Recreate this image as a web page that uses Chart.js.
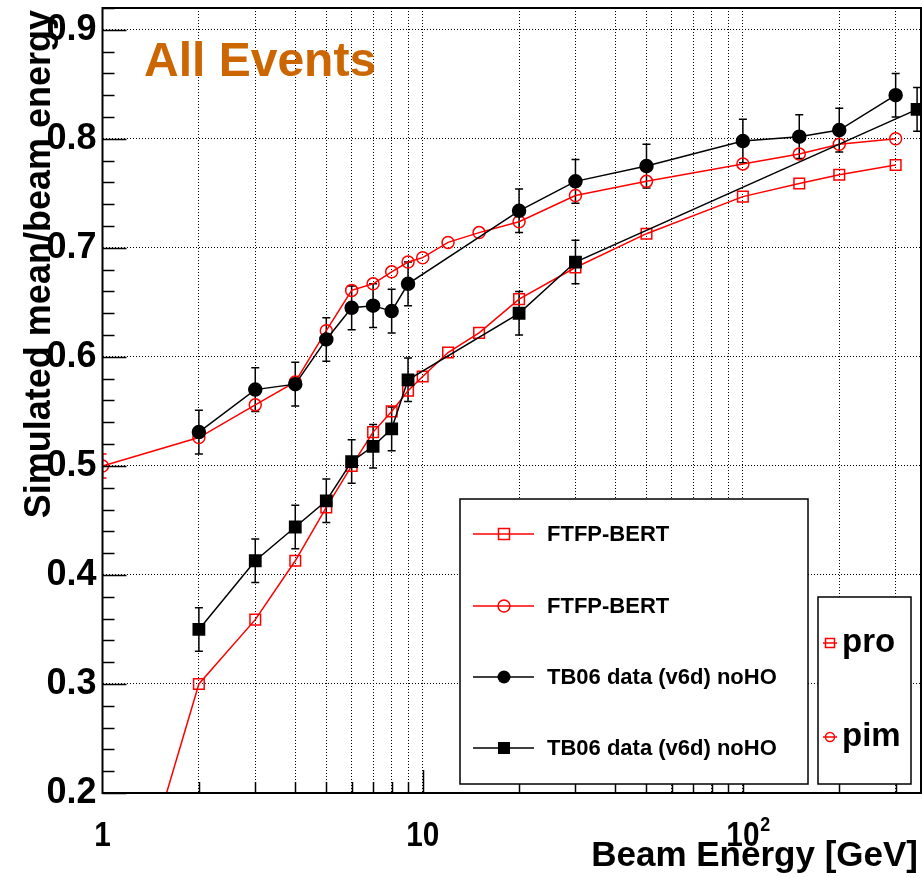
<!DOCTYPE html>
<html>
<head>
<meta charset="utf-8">
<script src="https://cdn.jsdelivr.net/npm/chart.js@4.4.1/dist/chart.umd.min.js"></script>
<style>
  html, body { margin: 0; padding: 0; background: #fff; }
</style>
</head>
<body>
<canvas id="grafica" width="922" height="878"></canvas>
<script>
/********** Datos **********/
const energiasSim = [1, 2, 3, 4, 5, 6, 7, 8, 9, 10, 12, 15, 20, 30, 50, 100, 150, 200, 300];
const proSim = [0.002, 0.300, 0.359, 0.413, 0.462, 0.500, 0.531, 0.550, 0.569, 0.582, 0.604, 0.622, 0.653, 0.682, 0.713, 0.747, 0.759, 0.767, 0.776];
const pimSim = [0.500, 0.526, 0.556, 0.577, 0.624, 0.661, 0.667, 0.678, 0.687, 0.691, 0.705, 0.714, 0.724, 0.748, 0.761, 0.777, 0.786, 0.795, 0.800];
const pimSimErr = [0.011, 0, 0, 0, 0, 0, 0, 0, 0, 0, 0, 0, 0, 0, 0, 0, 0, 0, 0];

const energiasPimData = [2, 3, 4, 5, 6, 7, 8, 9, 20, 30, 50, 100, 150, 200, 300];
const pimData = [0.531, 0.570, 0.575, 0.616, 0.645, 0.647, 0.642, 0.667, 0.734, 0.761, 0.775, 0.798, 0.802, 0.808, 0.840];
const pimDataErr = [0.02, 0.02, 0.02, 0.02, 0.02, 0.02, 0.02, 0.02, 0.02, 0.02, 0.02, 0.02, 0.02, 0.02, 0.02];

const energiasProData = [2, 3, 4, 5, 6, 7, 8, 9, 20, 30, 350];
const proData = [0.350, 0.413, 0.444, 0.468, 0.504, 0.518, 0.534, 0.579, 0.640, 0.687, 0.827];
const proDataErr = [0.02, 0.02, 0.02, 0.02, 0.02, 0.02, 0.02, 0.02, 0.02, 0.02, 0.02];

const yTicks = [0.2, 0.3, 0.4, 0.5, 0.6, 0.7, 0.8, 0.9];
const xGrid = [1, 2, 3, 4, 5, 6, 7, 8, 9, 10, 20, 30, 40, 50, 60, 70, 80, 90, 100, 200, 300];
const xLabelValues = [1, 10, 100];
const xLabelTexts = ['1', '10', '10'];
const xLabelExp = ['', '', '2'];

const leyenda = ['FTFP-BERT', 'FTFP-BERT', 'TB06 data (v6d) noHO', 'TB06 data (v6d) noHO'];
const leyenda2 = ['pro', 'pim'];

const ROJO = '#ff0000';
const NEGRO = '#000000';
const FUENTE = 'Liberation Sans, Arial, sans-serif';

const puntos = (xs, ys) => xs.map((e, i) => ({x: e, y: ys[i]}));

/********** marcadores ************/
function marcador(ctx, tipo, x, y, r, color, relleno) {
  ctx.save();
  ctx.strokeStyle = color;
  ctx.fillStyle = color;
  ctx.lineWidth = 1.5;
  ctx.beginPath();
  if (tipo === 'rect') ctx.rect(x - r, y - r, 2 * r, 2 * r);
  else ctx.arc(x, y, r, 0, Math.PI * 2);
  if (relleno) ctx.fill(); else ctx.stroke();
  ctx.restore();
}

// sin relleno extra alrededor de los ejes
const sinPadding = s => {
  s.paddingTop = 0; s.paddingBottom = 0; s.paddingLeft = 0; s.paddingRight = 0;
};

/********** barras de error ************/
const barrasError = {
  id: 'barrasError',
  beforeDatasetsDraw(chart) {
    const {ctx, chartArea, scales: {x, y}} = chart;
    ctx.save();
    ctx.beginPath();
    ctx.rect(chartArea.left, chartArea.top, chartArea.width, chartArea.height);
    ctx.clip();
    chart.data.datasets.forEach(ds => {
      if (!ds.errores) return;
      ctx.strokeStyle = ds.borderColor;
      ctx.lineWidth = 1.5;
      ds.data.forEach((p, i) => {
        const e = ds.errores[i];
        if (!e) return;
        const px = x.getPixelForValue(p.x);
        const y1 = y.getPixelForValue(p.y - e);
        const y2 = y.getPixelForValue(p.y + e);
        ctx.beginPath();
        ctx.moveTo(px, y1); ctx.lineTo(px, y2);
        ctx.moveTo(px - 4, y1); ctx.lineTo(px + 4, y1);
        ctx.moveTo(px - 4, y2); ctx.lineTo(px + 4, y2);
        ctx.stroke();
      });
    });
    ctx.restore();
  }
};

/********** marco, textos y leyendas ************/
const decoracion = {
  id: 'decoracion',
  afterDraw(chart) {
    const {ctx, chartArea: a, scales: {x, y}} = chart;
    ctx.save();

    // ticks hacia adentro
    ctx.strokeStyle = NEGRO;
    ctx.lineWidth = 1.5;
    ctx.beginPath();
    for (let k = 10; k <= 46; k++) {
      const py = Math.round(y.getPixelForValue(k * 0.02)) + 0.5;
      const largo = (k % 5 === 0) ? 24 : 12;
      ctx.moveTo(a.left, py); ctx.lineTo(a.left + largo, py);
    }
    [1, 10, 100].forEach(dec => {
      for (let s = 1; s <= 9; s++) {
        const v = dec * s;
        if (v <= 1 || v > 360) continue;
        const px = Math.round(x.getPixelForValue(v)) + 0.5;
        const largo = s === 1 ? 23 : 11;
        ctx.moveTo(px, a.bottom); ctx.lineTo(px, a.bottom - largo);
      }
    });
    ctx.stroke();

    // marco
    ctx.lineWidth = 2;
    ctx.strokeRect(a.left, a.top, a.right - a.left, a.bottom - a.top);

    // etiquetas eje x
    ctx.fillStyle = NEGRO;
    ctx.textBaseline = 'alphabetic';
    xLabelValues.forEach((v, i) => {
      const px = x.getPixelForValue(v);
      ctx.save();
      ctx.translate(px, 846);
      ctx.scale(0.85, 1);
      ctx.font = 'bold 35px ' + FUENTE;
      ctx.textAlign = 'center';
      ctx.fillText(xLabelTexts[i], 0, 0);
      if (xLabelExp[i]) {
        const w = ctx.measureText(xLabelTexts[i]).width;
        ctx.font = 'bold 21px ' + FUENTE;
        ctx.textAlign = 'left';
        ctx.fillText(xLabelExp[i], w / 2 + 1, -15);
      }
      ctx.restore();
    });

    // titulos de ejes
    ctx.font = 'bold 35px ' + FUENTE;
    ctx.textAlign = 'right';
    ctx.fillText('Beam Energy [GeV]', 918, 866);

    ctx.save();
    ctx.translate(50, 10);
    ctx.rotate(-Math.PI / 2);
    ctx.font = 'bold 36px ' + FUENTE;
    ctx.textAlign = 'right';
    ctx.fillText('Simulated mean/beam energy', 0, 0);
    ctx.restore();

    // All Events
    ctx.fillStyle = '#cc6600';
    ctx.font = 'bold 48px ' + FUENTE;
    ctx.textAlign = 'left';
    ctx.fillText('All Events', 144, 76);

    // leyenda principal
    ctx.fillStyle = '#fff';
    ctx.strokeStyle = NEGRO;
    ctx.lineWidth = 1.5;
    ctx.fillRect(460, 499, 348, 285);
    ctx.strokeRect(460, 499, 348, 285);
    const filasY = [534, 606, 677, 748];
    const estilos = [
      {c: ROJO, t: 'rect', r: 5.5, f: false},
      {c: ROJO, t: 'circle', r: 6, f: false},
      {c: NEGRO, t: 'circle', r: 6.5, f: true},
      {c: NEGRO, t: 'rect', r: 6, f: true}
    ];
    ctx.font = 'bold 22px ' + FUENTE;
    ctx.textBaseline = 'middle';
    leyenda.forEach((txt, i) => {
      const st = estilos[i];
      const py = filasY[i];
      ctx.strokeStyle = st.c;
      ctx.lineWidth = 1.5;
      ctx.beginPath();
      ctx.moveTo(473, py); ctx.lineTo(534, py);
      ctx.stroke();
      marcador(ctx, st.t, 504, py, st.r, st.c, st.f);
      ctx.fillStyle = NEGRO;
      ctx.fillText(txt, 547, py + 1);
    });

    // leyenda de particulas
    ctx.fillStyle = '#fff';
    ctx.strokeStyle = NEGRO;
    ctx.lineWidth = 1.5;
    ctx.fillRect(818, 597, 93, 187);
    ctx.strokeRect(818, 597, 93, 187);
    const filas2 = [643, 737];
    const tipos2 = ['rect', 'circle'];
    ctx.font = 'bold 33px ' + FUENTE;
    leyenda2.forEach((txt, i) => {
      const py = filas2[i];
      ctx.strokeStyle = ROJO;
      ctx.lineWidth = 1.5;
      ctx.beginPath();
      ctx.moveTo(823, py); ctx.lineTo(837, py);
      ctx.stroke();
      marcador(ctx, tipos2[i], 830, py, 4.5, ROJO, false);
      ctx.fillStyle = NEGRO;
      ctx.fillText(txt, 842, py);
    });

    ctx.restore();
  }
};

/********** grafica ************/
const ctx = document.getElementById('grafica');
new Chart(ctx, {
  type: 'line',
  data: {
    datasets: [
      {
        label: 'TB06 data (v6d) noHO pim',
        data: puntos(energiasPimData, pimData),
        errores: pimDataErr,
        borderColor: NEGRO, backgroundColor: NEGRO, borderWidth: 1.5,
        pointStyle: 'circle', pointRadius: 6.5, pointBackgroundColor: NEGRO, pointBorderColor: NEGRO,
        order: 1
      },
      {
        label: 'TB06 data (v6d) noHO pro',
        data: puntos(energiasProData, proData),
        errores: proDataErr,
        borderColor: NEGRO, backgroundColor: NEGRO, borderWidth: 1.5,
        pointStyle: 'rect', pointRadius: 8, pointBackgroundColor: NEGRO, pointBorderColor: NEGRO,
        order: 1
      },
      {
        label: 'FTFP-BERT pim',
        data: puntos(energiasSim, pimSim),
        errores: pimSimErr,
        borderColor: ROJO, backgroundColor: 'rgba(0,0,0,0)', borderWidth: 1.5,
        pointStyle: 'circle', pointRadius: 6, pointBorderWidth: 1.5,
        pointBackgroundColor: 'rgba(0,0,0,0)', pointBorderColor: ROJO,
        order: 2
      },
      {
        label: 'FTFP-BERT pro',
        data: puntos(energiasSim, proSim),
        borderColor: ROJO, backgroundColor: 'rgba(0,0,0,0)', borderWidth: 1.5,
        pointStyle: 'rect', pointRadius: 7.5, pointBorderWidth: 1.5,
        pointBackgroundColor: 'rgba(0,0,0,0)', pointBorderColor: ROJO,
        order: 2
      }
    ]
  },
  options: {
    responsive: false,
    animation: false,
    layout: {autoPadding: false, padding: {top: 8, right: 1, left: 0, bottom: 0}},
    plugins: {legend: {display: false}, tooltip: {enabled: false}},
    elements: {line: {tension: 0}},
    scales: {
      x: {
        type: 'logarithmic', min: 1, max: 360,
        afterBuildTicks: s => { s.ticks = xGrid.map(v => ({value: v})); },
        afterFit: s => { s.height = 85; sinPadding(s); },
        ticks: {display: false},
        grid: {color: NEGRO, lineWidth: 1, drawTicks: false},
        border: {display: false, dash: [1, 2]}
      },
      y: {
        type: 'linear', min: 0.2, max: 0.92,
        afterBuildTicks: s => { s.ticks = yTicks.map(v => ({value: v})); },
        afterFit: s => { s.width = 102.5; sinPadding(s); },
        ticks: {
          color: NEGRO, padding: 6, autoSkip: false,
          font: {family: FUENTE, weight: 'bold', size: 36},
          callback: v => Number(v).toFixed(1)
        },
        grid: {color: NEGRO, lineWidth: 1, drawTicks: false},
        border: {display: false, dash: [1, 2]}
      }
    }
  },
  plugins: [barrasError, decoracion]
});
</script>
</body>
</html>
